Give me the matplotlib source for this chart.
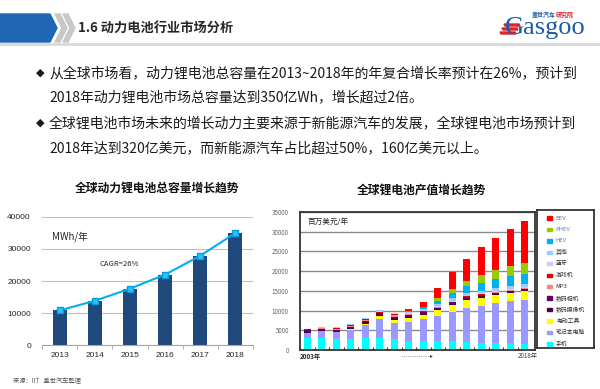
import matplotlib.pyplot as plt
from matplotlib.patches import Rectangle, Polygon
import numpy as np

plt.rcParams['font.family'] = ['Noto Sans CJK SC', 'DejaVu Sans']

W, H = 600, 389

# left chart: total capacity (MWh / year)
cap_years = ['2013', '2014', '2015', '2016', '2017', '2018']
cap_bars = [10800, 13700, 17400, 21900, 27800, 35000]
cap_line = [10800, 13800, 17600, 22000, 27900, 35000]

# right chart: li-ion market value (million USD / year), 2003..2018
val_years = list(range(2003, 2019))
phone = [3000, 3100, 2800, 2800, 3100, 3100, 2700, 2300, 2200, 2200, 2200, 2000, 1900, 1700, 1700, 1600]
laptop = [1300, 1600, 1650, 2200, 3200, 4700, 4250, 4900, 5600, 6500, 7500, 8600, 9300, 10100, 10700, 11100]
tool = [100, 100, 100, 300, 400, 700, 700, 850, 1200, 1450, 1700, 2100, 2100, 2100, 2100, 2300]
camcorder = [300, 300, 300, 300, 400, 400, 400, 400, 300, 300, 300, 300, 300, 300, 250, 250]
camera = [300, 300, 300, 300, 300, 400, 400, 400, 300, 300, 350, 350, 350, 350, 300, 300]
mp3 = [100, 100, 200, 200, 200, 100, 500, 200, 150, 150, 150, 150, 100, 100, 100, 100]
console = [100, 50, 200, 300, 200, 300, 300, 200, 150, 100, 100, 100, 100, 100, 100, 100]
bluetooth = [50, 50, 50, 50, 100, 150, 100, 150, 150, 200, 200, 200, 200, 200, 250, 250]
other = [150, 150, 150, 100, 150, 300, 150, 250, 250, 500, 600, 700, 600, 800, 850, 750]
hev = [0, 0, 0, 0, 0, 0, 0, 300, 600, 850, 1300, 1700, 2100, 2200, 2300, 2400]
phev = [0, 0, 0, 0, 0, 0, 0, 0, 100, 600, 1100, 1400, 2000, 2300, 2550, 3000]
bev = [0, 0, 0, 0, 0, 0, 0, 400, 1250, 2700, 4300, 5600, 7100, 8100, 9600, 10600]

series = [
    ('手机', phone, '#00FFFF'),
    ('笔记本电脑', laptop, '#9999FF'),
    ('电动工具', tool, '#FFFF00'),
    ('数码摄像机', camcorder, '#4D004D'),
    ('数码相机', camera, '#660066'),
    ('MP3', mp3, '#FF8080'),
    ('游戏机', console, '#E00000'),
    ('蓝牙', bluetooth, '#CCCCFF'),
    ('其他', other, '#99CCFF'),
    ('HEV', hev, '#00B0F0'),
    ('PHEV', phev, '#99CC00'),
    ('BEV', bev, '#FF0000'),
]


def fx(x):
    return x / W


def fy(y):
    return 1 - y / H


fig = plt.figure(figsize=(6, 3.89), dpi=100)

# ---- header ----
blue = '#1E66B4'
fig.add_artist(Polygon([(fx(0), fy(14)), (fx(50), fy(14)), (fx(57), fy(28)),
                        (fx(50), fy(42)), (fx(0), fy(42))],
                       closed=True, transform=fig.transFigure, color=blue))
for dx in (0, 8):
    pts = [(55 + dx, 14), (60 + dx, 14), (67 + dx, 28), (60 + dx, 42), (55 + dx, 42), (62 + dx, 28)]
    fig.add_artist(Polygon([(fx(a), fy(b)) for a, b in pts], closed=True,
                           transform=fig.transFigure, color='#C8C8C8'))
fig.text(fx(78), fy(28), '1.6 动力电池行业市场分析', fontsize=9.5, fontweight='bold',
         color='#262626', va='center', ha='left')
fig.add_artist(plt.Line2D([0, 1], [fy(44), fy(44)], transform=fig.transFigure,
                          color='#D9D9D9', lw=2))

# logo
for i, yy in enumerate((25, 29, 33)):
    x0 = 505 - i * 2
    pts = [(x0, yy + 1), (x0 + 15, yy + 1), (x0 + 14, yy - 1), (x0 - 1, yy - 1)]
    fig.add_artist(Polygon([(fx(a), fy(b)) for a, b in pts], closed=True,
                           transform=fig.transFigure, color='#D9262C'))
fig.text(fx(505), fy(34), 'Gasgoo', fontsize=19, family='Liberation Serif',
         color='#1C5BA6', va='baseline', ha='left')
fig.text(fx(532), fy(15), '盖世汽车', fontsize=4.3, color='#1C5BA6', va='center',
         fontweight='bold')
fig.text(fx(556), fy(15), '研究院', fontsize=4.3, color='#D9262C', va='center',
         fontweight='bold')

# ---- bullet text ----
lines = [
    (73, True, '从全球市场看，动力锂电池总容量在2013~2018年的年复合增长率预计在26%，预计到'),
    (97, False, '2018年动力锂电池市场总容量达到350亿Wh，增长超过2倍。'),
    (123, True, '全球锂电池市场未来的增长动力主要来源于新能源汽车的发展，全球锂电池市场预计到'),
    (148, False, '2018年达到320亿美元，而新能源汽车占比超过50%，160亿美元以上。'),
]
for y, bullet, txt in lines:
    if bullet:
        fig.text(fx(36), fy(y), '◆', fontsize=8, color='#1a1a1a', va='center',
                 family=['DejaVu Sans'])
    fig.text(fx(49), fy(y), txt, fontsize=10, color='#1a1a1a', va='center', ha='left')

# ---- left chart ----
ax1 = fig.add_axes([fx(42), fy(345), fx(253) - fx(42), fy(217) - fy(345)])
x1 = np.arange(len(cap_years))
ax1.bar(x1, cap_bars, width=0.4, color='#1F497D', zorder=2)
ax1.plot(x1, cap_line, color='#00B0F0', lw=1.5, marker='s', markersize=5,
         markerfacecolor='#33BFF5', markeredgecolor='#00A0E0', zorder=3)
ax1.set_ylim(0, 40000)
ax1.set_xlim(-0.5, 5.5)
ax1.set_yticks(range(0, 40001, 10000))
ax1.grid(axis='y', color='#BFBFBF', lw=0.8, zorder=0)
ax1.set_xticks(x1)
ax1.set_xticklabels(cap_years)
ax1.set_xticks(np.arange(-0.5, 6, 1), minor=True)
ax1.tick_params(axis='x', which='major', length=0, labelsize=6, pad=5, labelcolor='#262626')
ax1.tick_params(axis='x', which='minor', length=3, color='#A6A6A6')
ax1.tick_params(axis='y', length=0, labelsize=6, pad=8, labelcolor='#262626')
for t in ax1.get_xticklabels() + ax1.get_yticklabels():
    t.set_family('Liberation Sans')
for s in ('top', 'right', 'left'):
    ax1.spines[s].set_visible(False)
ax1.spines['bottom'].set_color('#A6A6A6')
ax1.text(0.3, 34000, 'MWh/年', fontsize=7, color='#262626', va='center', ha='center')
ax1.text(1.7, 25300, 'CAGR=26%', fontsize=5.5, color='#262626', va='center', ha='center')
fig.text(fx(157), fy(188), '全球动力锂电池总容量增长趋势', fontsize=8.5, fontweight='bold',
         color='#111111', ha='center', va='center')

# source
fig.text(fx(13), fy(381), '来源：IIT   盖世汽车整理', fontsize=4.5, color='#555555', va='center')

# ---- right chart ----
ax2 = fig.add_axes([fx(300), fy(350), fx(535) - fx(300), fy(212) - fy(350)])
x2 = np.arange(len(val_years))
bottom = np.zeros(len(val_years))
for name, vals, col in series:
    ax2.bar(x2, vals, bottom=bottom, width=0.48, color=col, zorder=2)
    bottom += np.array(vals)
ax2.set_ylim(0, 35000)
ax2.set_xlim(-0.5, 15.7)
ax2.set_yticks(range(0, 35001, 5000))
ax2.grid(axis='y', color='#8C8C8C', lw=1, zorder=0)
ax2.set_xticks(np.arange(0.5, 15.5, 1))
ax2.set_xticklabels([])
ax2.tick_params(axis='x', length=2, direction='in', color='#333333')
ax2.tick_params(axis='y', length=0, labelsize=4.5, pad=8, labelcolor='#666666')
for s in ax2.spines.values():
    s.set_color('#333333')
    s.set_linewidth(1.3)
ax2.text(0.03, 0.925, '百万美元/年', transform=ax2.transAxes, fontsize=5.5,
         color='#262626', va='center', ha='left')
fig.text(fx(300), fy(356), f'{val_years[0]}年', fontsize=4.5, fontweight='bold',
         color='#262626', va='center', ha='left')
fig.text(fx(538), fy(356), f'{val_years[-1]}年', fontsize=4.5, color='#444444',
         va='center', ha='right')
fig.add_artist(plt.Line2D([fx(402), fx(431)], [fy(356), fy(356)],
                          transform=fig.transFigure, color='#555555', lw=0.5, ls=':'))
fig.text(fx(430), fy(356), '▸', fontsize=4, color='#333333', va='center', ha='left',
         family=['DejaVu Sans'])
fig.text(fx(421), fy(190), '全球锂电池产值增长趋势', fontsize=8.5, fontweight='bold',
         color='#111111', ha='center', va='center')

# legend box
axl = fig.add_axes([fx(537), fy(348), fx(594) - fx(537), fy(210) - fy(348)])
axl.set_xlim(0, 1)
axl.set_ylim(0, 1)
axl.set_xticks([])
axl.set_yticks([])
for s in axl.spines.values():
    s.set_color('#333333')
    s.set_linewidth(1.3)
for i, (name, vals, col) in enumerate(series[::-1]):
    yy = 1 - (8 + i * 11.45) / 138
    axl.add_patch(Rectangle((0.17, yy - 0.012), 0.1, 0.024, color=col))
    tcol = '#4F81BD' if name in ('BEV', 'PHEV', 'HEV') else '#333333'
    axl.text(0.33, yy, name, fontsize=4.2, color=tcol, va='center', ha='left')

fig.savefig('out.png', dpi=100)
